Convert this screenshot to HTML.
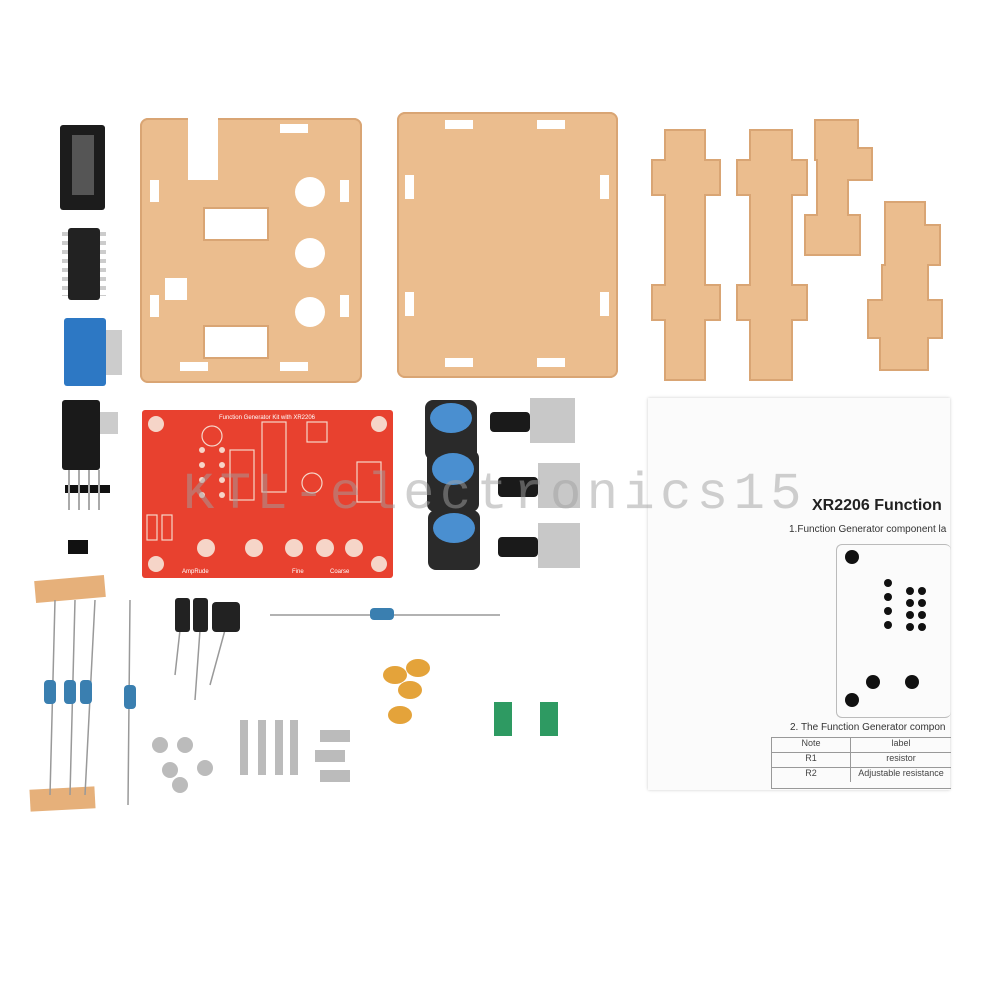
<!DOCTYPE html>
<html><head><meta charset="utf-8"><style>
html,body{margin:0;padding:0;background:#fff;}
body{width:1000px;height:1000px;position:relative;overflow:hidden;font-family:"Liberation Sans",sans-serif;}
.a{position:absolute;}
.acr{position:absolute;background:#ebbd8e;border-radius:8px;box-shadow:inset 0 0 0 2px #d9a574;}
.hole{position:absolute;background:#fff;}
</style></head><body>
<div class="acr" style="left:140px;top:118px;width:222px;height:265px;"></div>
<div class="hole" style="left:188px;top:118px;width:30px;height:62px;"></div>
<div class="hole" style="left:203px;top:207px;width:62px;height:30px;border:2px solid #d9a574;"></div>
<div class="hole" style="left:165px;top:278px;width:22px;height:22px;"></div>
<div class="hole" style="left:203px;top:325px;width:62px;height:30px;border:2px solid #d9a574;"></div>
<div class="hole" style="left:295px;top:177px;width:30px;height:30px;border-radius:50%;"></div>
<div class="hole" style="left:295px;top:238px;width:30px;height:30px;border-radius:50%;"></div>
<div class="hole" style="left:295px;top:297px;width:30px;height:30px;border-radius:50%;"></div>
<div class="hole" style="left:280px;top:124px;width:28px;height:9px;"></div>
<div class="hole" style="left:340px;top:180px;width:9px;height:22px;"></div>
<div class="hole" style="left:340px;top:295px;width:9px;height:22px;"></div>
<div class="hole" style="left:150px;top:180px;width:9px;height:22px;"></div>
<div class="hole" style="left:150px;top:295px;width:9px;height:22px;"></div>
<div class="hole" style="left:280px;top:362px;width:28px;height:9px;"></div>
<div class="hole" style="left:180px;top:362px;width:28px;height:9px;"></div>
<div class="acr" style="left:397px;top:112px;width:221px;height:266px;"></div>
<div class="hole" style="left:445px;top:120px;width:28px;height:9px;"></div>
<div class="hole" style="left:537px;top:120px;width:28px;height:9px;"></div>
<div class="hole" style="left:445px;top:358px;width:28px;height:9px;"></div>
<div class="hole" style="left:537px;top:358px;width:28px;height:9px;"></div>
<div class="hole" style="left:405px;top:175px;width:9px;height:24px;"></div>
<div class="hole" style="left:405px;top:292px;width:9px;height:24px;"></div>
<div class="hole" style="left:600px;top:175px;width:9px;height:24px;"></div>
<div class="hole" style="left:600px;top:292px;width:9px;height:24px;"></div>
<svg class="a" style="left:0;top:0" width="1000" height="400">
<g fill="#ebbd8e" stroke="#d9a574" stroke-width="2">
<path d="M665 130H705V160H720V195H705V285H720V320H705V380H665V320H652V285H665V195H652V160H665Z"/>
<path d="M750 130H792V160H807V195H792V285H807V320H792V380H750V320H737V285H750V195H737V160H750Z"/>
<path d="M815 120H858V148H872V180H848V215H860V255H805V215H817V160H815Z"/>
<path d="M885 202H925V225H940V265H928V300H942V338H928V370H880V338H868V300H882V265H885Z"/>
</g></svg>
<div class="a" style="left:648px;top:398px;width:302px;height:392px;background:#fbfbfb;box-shadow:0 0 3px #ccc;"></div>
<div class="a" style="left:812px;top:497px;font-size:16px;font-weight:bold;color:#222;white-space:nowrap;width:138px;overflow:hidden;">XR2206 Function</div>
<div class="a" style="left:789px;top:524px;font-size:10px;color:#333;white-space:nowrap;width:161px;overflow:hidden;">1.Function Generator component la</div>
<div class="a" style="left:836px;top:544px;width:114px;height:172px;border:1px solid #bbb;border-radius:6px;border-right:none;"></div>
<div class="a" style="left:845px;top:550px;width:14px;height:14px;border-radius:50%;background:#111;"></div>
<div class="a" style="left:845px;top:693px;width:14px;height:14px;border-radius:50%;background:#111;"></div>
<div class="a" style="left:866px;top:675px;width:14px;height:14px;border-radius:50%;background:#111;"></div>
<div class="a" style="left:905px;top:675px;width:14px;height:14px;border-radius:50%;background:#111;"></div>
<svg class="a" style="left:880px;top:575px" width="70" height="70"><g fill="#111"><circle cx="8" cy="8" r="4"/><circle cx="8" cy="22" r="4"/><circle cx="8" cy="36" r="4"/><circle cx="8" cy="50" r="4"/><circle cx="30" cy="16" r="4"/><circle cx="30" cy="28" r="4"/><circle cx="30" cy="40" r="4"/><circle cx="42" cy="16" r="4"/><circle cx="42" cy="28" r="4"/><circle cx="42" cy="40" r="4"/><circle cx="42" cy="52" r="4"/><circle cx="30" cy="52" r="4"/></g></svg>
<div class="a" style="left:790px;top:722px;font-size:10px;color:#333;white-space:nowrap;width:160px;overflow:hidden;">2. The Function Generator compon</div>
<div class="a" style="left:771px;top:737px;width:179px;height:50px;border:1px solid #999;border-right:none;font-size:9px;color:#444;">
<div style="display:flex;height:14px;border-bottom:1px solid #999;"><div style="width:78px;text-align:center;border-right:1px solid #999;">Note</div><div style="flex:1;text-align:center;">label</div></div>
<div style="display:flex;height:14px;border-bottom:1px solid #999;"><div style="width:78px;text-align:center;border-right:1px solid #999;">R1</div><div style="flex:1;text-align:center;">resistor</div></div>
<div style="display:flex;height:14px;"><div style="width:78px;text-align:center;border-right:1px solid #999;">R2</div><div style="flex:1;text-align:center;white-space:nowrap;">Adjustable resistance</div></div>
</div>
<div class="a" style="left:142px;top:410px;width:251px;height:168px;background:#e8412f;border-radius:3px;"></div>
<svg class="a" style="left:142px;top:410px" width="251" height="168">
<g fill="#f6d5c8"><circle cx="14" cy="14" r="8"/><circle cx="237" cy="14" r="8"/><circle cx="14" cy="154" r="8"/><circle cx="237" cy="154" r="8"/>
<circle cx="64" cy="138" r="9"/><circle cx="112" cy="138" r="9"/><circle cx="152" cy="138" r="9"/><circle cx="183" cy="138" r="9"/><circle cx="212" cy="138" r="9"/></g>
<g fill="none" stroke="#f6d5c8" stroke-width="1.2"><rect x="120" y="12" width="24" height="70"/><rect x="88" y="40" width="24" height="50"/><rect x="215" y="52" width="24" height="40"/><circle cx="70" cy="26" r="10"/><circle cx="170" cy="73" r="10"/><rect x="165" y="12" width="20" height="20"/><rect x="5" y="105" width="10" height="25"/><rect x="20" y="105" width="10" height="25"/></g>
<g fill="#f6d5c8"><circle cx="60" cy="40" r="3"/><circle cx="60" cy="55" r="3"/><circle cx="60" cy="70" r="3"/><circle cx="60" cy="85" r="3"/><circle cx="80" cy="40" r="3"/><circle cx="80" cy="55" r="3"/><circle cx="80" cy="70" r="3"/><circle cx="80" cy="85" r="3"/></g>
<text x="125" y="9" font-size="6" fill="#fff" text-anchor="middle">Function Generator Kit with XR2206</text>
<text x="40" y="163" font-size="6" fill="#fff">AmpRude</text><text x="150" y="163" font-size="6" fill="#fff">Fine</text><text x="188" y="163" font-size="6" fill="#fff">Coarse</text>
</svg>
<div class="a" style="left:425px;top:400px;width:52px;height:60px;background:#2a2a2a;border-radius:8px;"></div>
<div class="a" style="left:430px;top:403px;width:42px;height:30px;background:#4a8fd0;border-radius:50%;"></div>
<div class="a" style="left:427px;top:450px;width:52px;height:62px;background:#2a2a2a;border-radius:8px;"></div>
<div class="a" style="left:432px;top:453px;width:42px;height:32px;background:#4a8fd0;border-radius:50%;"></div>
<div class="a" style="left:428px;top:510px;width:52px;height:60px;background:#2a2a2a;border-radius:8px;"></div>
<div class="a" style="left:433px;top:513px;width:42px;height:30px;background:#4a8fd0;border-radius:50%;"></div>
<div class="a" style="left:490px;top:412px;width:40px;height:20px;background:#1a1a1a;border-radius:4px;"></div>
<div class="a" style="left:530px;top:398px;width:45px;height:45px;background:#c8c8c8;"></div>
<div class="a" style="left:498px;top:477px;width:40px;height:20px;background:#1a1a1a;border-radius:4px;"></div>
<div class="a" style="left:538px;top:463px;width:42px;height:45px;background:#c8c8c8;"></div>
<div class="a" style="left:498px;top:537px;width:40px;height:20px;background:#1a1a1a;border-radius:4px;"></div>
<div class="a" style="left:538px;top:523px;width:42px;height:45px;background:#c8c8c8;"></div>
<div class="a" style="left:60px;top:125px;width:45px;height:85px;background:#1c1c1c;border-radius:3px;"></div>
<div class="a" style="left:72px;top:135px;width:22px;height:60px;background:#555;"></div>
<div class="a" style="left:68px;top:228px;width:32px;height:72px;background:#222;border-radius:3px;"></div>
<div class="a" style="left:62px;top:232px;width:6px;height:64px;background:repeating-linear-gradient(#ccc 0 4px,transparent 4px 9px);"></div>
<div class="a" style="left:100px;top:232px;width:6px;height:64px;background:repeating-linear-gradient(#ccc 0 4px,transparent 4px 9px);"></div>
<div class="a" style="left:64px;top:318px;width:42px;height:68px;background:#2d78c4;border-radius:3px;"></div>
<div class="a" style="left:106px;top:330px;width:16px;height:45px;background:#ccc;"></div>
<div class="a" style="left:62px;top:400px;width:38px;height:70px;background:#1a1a1a;border-radius:3px;"></div>
<div class="a" style="left:100px;top:412px;width:18px;height:22px;background:#ccc;"></div>
<div class="a" style="left:65px;top:485px;width:45px;height:8px;background:#111;"></div>
<div class="a" style="left:68px;top:470px;width:40px;height:40px;background:repeating-linear-gradient(90deg,#aaa 0 2px,transparent 2px 10px);"></div>
<div class="a" style="left:68px;top:540px;width:20px;height:14px;background:#111;"></div>
<div class="a" style="left:35px;top:578px;width:70px;height:22px;background:#e6b07a;transform:rotate(-5deg);"></div>
<div class="a" style="left:30px;top:788px;width:65px;height:22px;background:#e6b07a;transform:rotate(-3deg);"></div>
<svg class="a" style="left:0;top:580px" width="650" height="230"><g stroke="#999" stroke-width="1.5" fill="none">
<path d="M55 20L50 215M75 20L70 215M95 20L85 215M130 20L128 225M180 50L175 95M200 50L195 120M225 50L210 105M270 35L500 35"/>
</g><g fill="#3a7fb0"><rect x="44" y="100" width="12" height="24" rx="4"/><rect x="64" y="100" width="12" height="24" rx="4"/><rect x="80" y="100" width="12" height="24" rx="4"/><rect x="124" y="105" width="12" height="24" rx="4"/><rect x="370" y="28" width="24" height="12" rx="4"/></g>
<g fill="#222"><rect x="175" y="18" width="15" height="34" rx="3"/><rect x="193" y="18" width="15" height="34" rx="3"/><rect x="212" y="22" width="28" height="30" rx="4"/></g>
<g fill="#e4a33a"><ellipse cx="395" cy="95" rx="12" ry="9"/><ellipse cx="418" cy="88" rx="12" ry="9"/><ellipse cx="410" cy="110" rx="12" ry="9"/><ellipse cx="400" cy="135" rx="12" ry="9"/></g>
<g fill="#2e9a62"><rect x="494" y="122" width="18" height="34"/><rect x="540" y="122" width="18" height="34"/></g>
<g fill="#bbb"><rect x="240" y="140" width="8" height="55"/><rect x="258" y="140" width="8" height="55"/><rect x="275" y="140" width="8" height="55"/><rect x="290" y="140" width="8" height="55"/>
<circle cx="160" cy="165" r="8"/><circle cx="185" cy="165" r="8"/><circle cx="170" cy="190" r="8"/><circle cx="205" cy="188" r="8"/><circle cx="180" cy="205" r="8"/><rect x="320" y="150" width="30" height="12"/><rect x="315" y="170" width="30" height="12"/><rect x="320" y="190" width="30" height="12"/></g>
</svg>
<div class="a" style="left:183px;top:465px;font-size:52px;font-family:'Liberation Mono',monospace;color:rgba(160,160,160,0.5);letter-spacing:5.5px;white-space:nowrap;">KTL-electronics15</div>
</body></html>
